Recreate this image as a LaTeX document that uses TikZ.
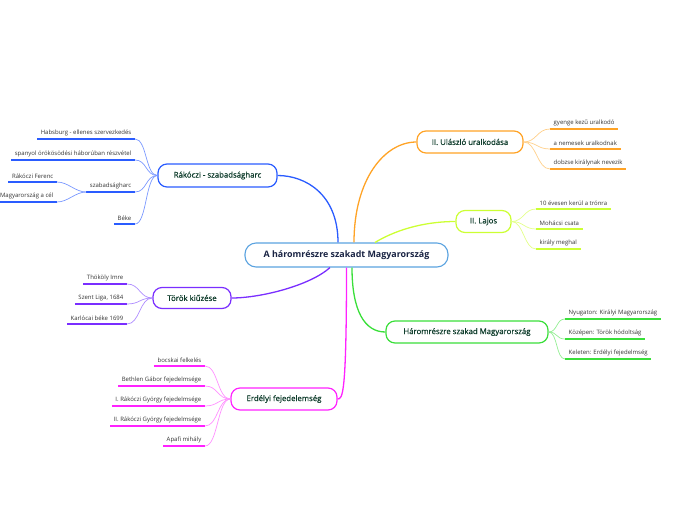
\documentclass[tikz,border=0pt]{standalone}
\usepackage{fontspec}
\setmainfont{Open Sans}
\newfontfamily\medfont{Open Sans}[FakeBold=0.6]
\definecolor{cB}{HTML}{2A5CFF}
\definecolor{cBl}{HTML}{7A98FF}
\definecolor{cO}{HTML}{FFA326}
\definecolor{cOl}{HTML}{FFCF8A}
\definecolor{cY}{HTML}{CCFF33}
\definecolor{cYl}{HTML}{E3FF8A}
\definecolor{cG}{HTML}{3ADF3A}
\definecolor{cGl}{HTML}{92EE92}
\definecolor{cP}{HTML}{7A2EFF}
\definecolor{cPl}{HTML}{AE8CFF}
\definecolor{cM}{HTML}{FF22FF}
\definecolor{cMl}{HTML}{FF90FF}
\definecolor{cC}{HTML}{5BA3E0}
\definecolor{boxtext}{HTML}{0F3D2C}
\definecolor{ctext}{HTML}{1A2444}
\definecolor{leaftext}{HTML}{333333}
\begin{document}
\begin{tikzpicture}[x=1pt,y=-1pt,
  box/.style={draw, line width=1.2pt, rounded corners=9pt, fill=white, text=boxtext,
    font=\medfont\fontsize{7.8}{9}\selectfont, minimum height=22pt, inner sep=0pt},
  central/.style={draw=cC, line width=1.1pt, rounded corners=11pt, fill=white, text=ctext,
    font=\bfseries\fontsize{8.9}{10}\selectfont, minimum height=24pt, minimum width=203pt, inner sep=0pt},
  leaf/.style={inner xsep=3.5pt, inner ysep=2.8pt, text=leaftext, font=\fontsize{6}{7}\selectfont},
  ul/.style={line width=1.6pt},
  mainline/.style={line width=1.3pt},
  subline/.style={line width=0.7pt}
]
\useasboundingbox (0,0) rectangle (696,520);

% central
\node[central] (c) at (346.5,255) {A háromrészre szakadt Magyarország};

% main boxes
\node[box, draw=cB, minimum width=119pt, minimum height=23pt] (rk) at (217.5,175.5) {Rákóczi - szabadságharc};
\node[box, draw=cO, minimum width=106pt] (ul) at (470,142) {II. Ulászló uralkodása};
\node[box, draw=cY, minimum width=55pt] (lj) at (483.5,221.5) {II. Lajos};
\node[box, draw=cG, minimum width=162pt] (hr) at (467,332) {Háromrészre szakad Magyarország};
\node[box, draw=cP, minimum width=78pt, minimum height=21pt] (tk) at (192,298) {Török kiűzése};
\node[box, draw=cM, minimum width=106pt] (er) at (284,399) {Erdélyi fejedelemség};

% main connectors
\draw[mainline, cB] ([xshift=-8.5pt]c.north) .. controls +(0,-48) and +(28,0) .. (rk.east);
\draw[mainline, cO] ([xshift=7.5pt]c.north) .. controls +(0,-63) and +(-32,0) .. (ul.west);
\draw[mainline, cY] ([xshift=28.5pt]c.north) .. controls +(25,-15) and +(-26,0) .. (lj.west);
\draw[mainline, cG] ([xshift=5.5pt]c.south) .. controls +(0,43) and +(-21,0) .. (hr.west);
\draw[mainline, cP] ([xshift=-16.5pt]c.south) .. controls +(-20,18) and +(29,0) .. (tk.east);
\draw[mainline, cM] (c.south) .. controls +(0,128) and +(5,0) .. (er.east);

% Rakoczi leaves
\node[leaf, anchor=south east] (r1) at (135,139) {Habsburg - ellenes szervezkedés};
\node[leaf, anchor=south east] (r2) at (135,160) {spanyol örökösödési háborúban részvétel};
\node[leaf, anchor=south east] (r3) at (135,192) {szabadságharc};
\node[leaf, anchor=south east] (r3a) at (57,182) {Rákóczi Ferenc};
\node[leaf, anchor=south east] (r3b) at (57,202) {Magyarország a cél};
\node[leaf, anchor=south east] (r4) at (135,224) {Béke};
\foreach \n in {r1,r2,r3,r4} {
  \draw[ul, cB] (\n.south west) -- (\n.south east);
  \draw[subline, cBl] (rk.west) .. controls +(-12,0) and +(12,0) .. (\n.south east);
}
\foreach \n in {r3a,r3b} {
  \draw[ul, cB] (\n.south west) -- (\n.south east);
  \draw[subline, cBl] (r3.south west) .. controls +(-11,0) and +(11,0) .. (\n.south east);
}

% Ulaszlo leaves
\node[leaf, anchor=south west] (u1) at (550,129) {gyenge kezű uralkodó};
\node[leaf, anchor=south west] (u2) at (550,149) {a nemesek uralkodnak};
\node[leaf, anchor=south west] (u3) at (550,169) {dobzse királynak nevezik};
\foreach \n in {u1,u2,u3} {
  \draw[ul, cO] (\n.south west) -- (\n.south east);
  \draw[subline, cOl] (ul.east) .. controls +(13,0) and +(-13,0) .. (\n.south west);
}

% Lajos leaves
\node[leaf, anchor=south west] (l1) at (536,209) {10 évesen kerül a trónra};
\node[leaf, anchor=south west] (l2) at (536,229) {Mohácsi csata};
\node[leaf, anchor=south west] (l3) at (536,249) {király meghal};
\foreach \n in {l1,l2,l3} {
  \draw[ul, cY] (\n.south west) -- (\n.south east);
  \draw[subline, cYl] (lj.east) .. controls +(12,0) and +(-12,0) .. (\n.south west);
}

% Haromreszre leaves
\node[leaf, anchor=south west] (h1) at (565,319) {Nyugaton: Királyi Magyarország};
\node[leaf, anchor=south west] (h2) at (565,339) {Középen: Török hódoltság};
\node[leaf, anchor=south west] (h3) at (565,359) {Keleten: Erdélyi fejedelmség};
\foreach \n in {h1,h2,h3} {
  \draw[ul, cG] (\n.south west) -- (\n.south east);
  \draw[subline, cGl] (hr.east) .. controls +(9,0) and +(-9,0) .. (\n.south west);
}

% Torok leaves
\node[leaf, anchor=south east] (t1) at (127,284) {Thököly Imre};
\node[leaf, anchor=south east] (t2) at (127,304) {Szent Liga, 1684};
\node[leaf, anchor=south east] (t3) at (127,324) {Karlócai béke 1699};
\foreach \n in {t1,t2,t3} {
  \draw[ul, cP] (\n.south west) -- (\n.south east);
  \draw[subline, cPl] (tk.west) .. controls +(-13,0) and +(13,0) .. (\n.south east);
}

% Erdelyi leaves
\node[leaf, anchor=south east] (e1) at (205,366) {bocskai felkelés};
\node[leaf, anchor=south east] (e2) at (205,386) {Bethlen Gábor fejedelmsége};
\node[leaf, anchor=south east] (e3) at (205,406) {I. Rákóczi György fejedelmsége};
\node[leaf, anchor=south east] (e4) at (205,426) {II. Rákóczi György fejedelmsége};
\node[leaf, anchor=south east] (e5) at (205,446) {Apafi mihály};
\foreach \n in {e1,e2,e3,e4,e5} {
  \draw[ul, cM] (\n.south west) -- (\n.south east);
  \draw[subline, cMl] (er.west) .. controls +(-13,0) and +(13,0) .. (\n.south east);
}
\end{tikzpicture}
\end{document}
